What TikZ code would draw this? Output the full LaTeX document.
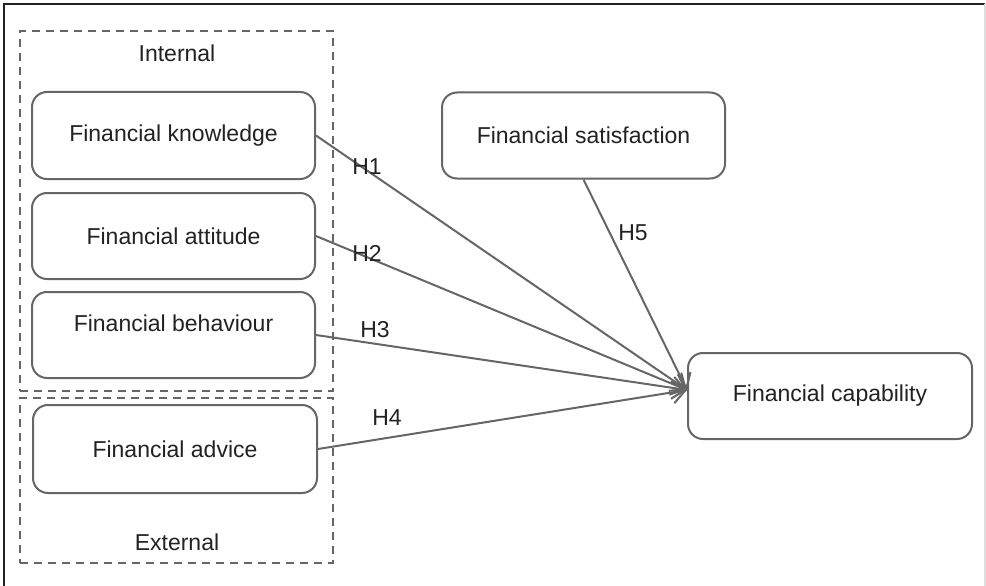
\documentclass[tikz,border=0pt]{standalone}
\usepackage{fontspec}
\setmainfont{Liberation Sans}
\usetikzlibrary{arrows.meta}
\definecolor{linegray}{HTML}{666666}
\definecolor{txtgray}{HTML}{222222}
\definecolor{framedark}{HTML}{222222}
\definecolor{framelight}{HTML}{DDDDDD}
\tikzset{
  varbox/.style={draw=linegray, line width=2pt, rounded corners=15pt, minimum width=283pt, minimum height=86pt, inner sep=0pt, fill=white},
  groupbox/.style={draw=linegray, line width=2pt, dash pattern=on 8pt off 6pt, inner sep=0pt},
  lbl/.style={text=txtgray, font=\fontsize{23}{27}\selectfont, inner sep=0pt},
  hyp/.style={draw=linegray, line width=2pt, -{Straight Barb[length=13pt,width=22pt]}},
}
\begin{document}
\begin{tikzpicture}[x=1pt,y=-1pt]
\useasboundingbox (0,0) rectangle (986,586);
% outer frame
\draw[framedark, line width=2pt] (4,586) -- (4,4) -- (985,4);
\draw[framelight, line width=2pt] (985,4) -- (985,586);
% group boxes
\node[groupbox, minimum width=313pt, minimum height=360pt] (internal) at (176.5,211) {};
\node[groupbox, minimum width=313pt, minimum height=165pt] (external) at (176.5,480.5) {};
\node[lbl] (internaltxt) at (177,53) {Internal};
\node[lbl] (externaltxt) at (177,542) {External};
% variable boxes
\node[varbox, minimum height=87pt] (knowledge) at (173.5,135.5) {};
\node[lbl] at (knowledge) {Financial knowledge};
\node[varbox] (attitude) at (173.5,236) {};
\node[lbl] at (attitude) {Financial attitude};
\node[varbox] (behaviour) at (173.5,335) {};
\node[lbl] (behaviourtxt) at (173.5,323) {Financial behaviour};
\node[varbox, minimum width=284pt, minimum height=88pt] (advice) at (175,449) {};
\node[lbl] at (advice) {Financial advice};
\node[varbox] (satisfaction) at (583.5,135.5) {};
\node[lbl] at (satisfaction) {Financial satisfaction};
\node[varbox, minimum width=284pt] (capability) at (830,396) {};
\node[lbl] at (capability) {Financial capability};
\coordinate (tip) at (687,390);
% hypotheses
\draw[hyp] (knowledge.east) -- (tip);
\draw[hyp] (attitude.east) -- (tip);
\draw[hyp] (behaviour.east) -- (tip);
\draw[hyp] (advice.east) -- (tip);
\draw[hyp] (satisfaction.south) -- (tip);
\node[lbl] (h1) at (367,167) {H1};
\node[lbl] (h2) at (367,253) {H2};
\node[lbl] (h3) at (375,330) {H3};
\node[lbl] (h4) at (387,418) {H4};
\node[lbl] (h5) at (633,233) {H5};
\end{tikzpicture}
\end{document}
